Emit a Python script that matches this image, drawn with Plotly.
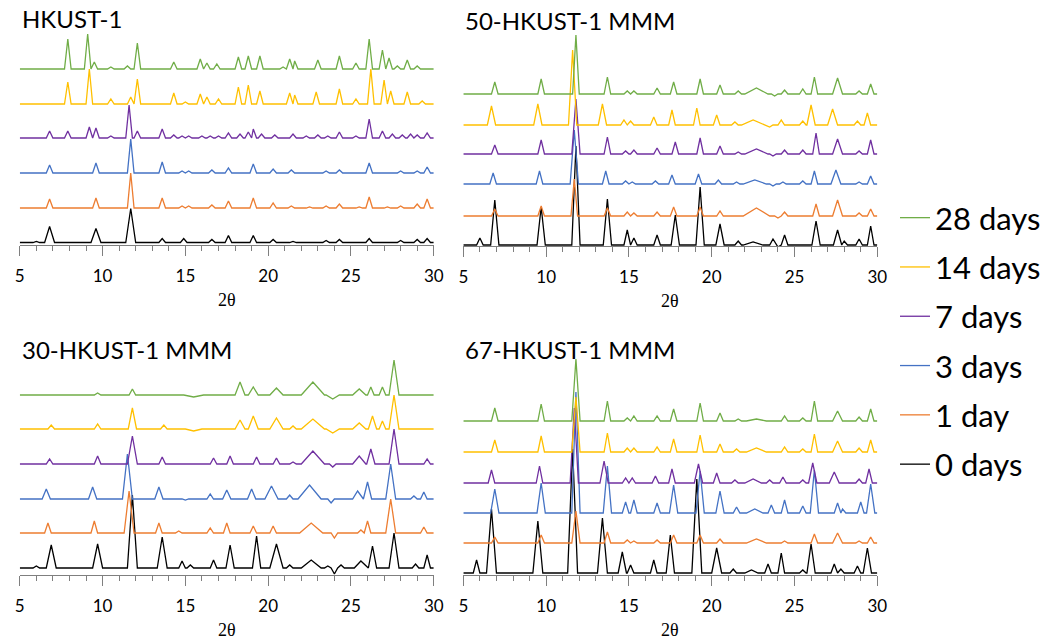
import plotly.graph_objects as go

# ---------------- data (peak position 2θ, height, optional half-width) ----------------
DAYS = ["0 days", "1 day", "3 days", "7 days", "14 days", "28 days"]
COLORS = ["#000000", "#ED7D31", "#4472C4", "#7030A0", "#FFC000", "#70AD47"]
TITLES = ["HKUST-1", "50-HKUST-1 MMM", "30-HKUST-1 MMM", "67-HKUST-1 MMM"]
X_TICKS = [5, 10, 15, 20, 25, 30]

HK1_D0 = [(6.0, 1), (6.8, 16, 0.3), (9.6, 14, 0.3), (11.7, 34, 0.3), (13.6, 4), (14.9, 4), (16.6, 3), (17.6, 7),
          (19.1, 7), (20.3, 3), (21.5, 1), (23.5, 2), (24.3, 3), (26.1, 4), (28.0, 2), (29.0, 3), (29.6, 4)]
HK1_D1 = [(6.8, 9), (9.6, 10), (11.7, 35), (13.6, 10), (14.8, 2), (15.2, 2), (16.6, 3), (17.6, 7), (19.1, 10),
          (20.3, 5), (21.4, 2), (22.5, 1), (23.5, 2), (24.3, 4), (25.5, 1), (26.1, 11), (27.2, 1), (28.0, 2),
          (29.0, 4), (29.6, 9)]
HK1_D3 = [(6.8, 8), (9.6, 10), (11.7, 34), (13.6, 11), (14.8, 2), (15.2, 2), (16.6, 3), (17.6, 5), (19.1, 9),
          (20.3, 4), (21.4, 3), (23.5, 2), (24.3, 3), (26.1, 10), (28.0, 2), (29.0, 2), (29.6, 6)]
HK1_D7 = [(6.8, 7), (7.9, 7), (9.2, 11), (9.6, 10), (10.5, 2), (11.6, 33), (12.1, 7), (13.6, 9), (14.3, 3),
          (14.8, 2), (15.2, 2), (16.0, 2), (16.5, 2), (17.0, 2), (17.6, 5), (18.3, 4), (18.8, 6), (19.1, 9),
          (19.6, 4), (20.4, 3), (21.5, 4), (22.3, 2), (23.0, 3), (23.6, 2), (24.3, 6), (25.3, 2), (26.1, 19),
          (26.9, 7), (27.5, 4), (28.1, 3), (28.6, 4), (29.0, 3), (29.6, 5)]
HK1_D14 = [(7.9, 22), (9.2, 35), (10.5, 5), (11.7, 7), (12.1, 25), (14.3, 11), (15.0, 2), (15.9, 10), (16.3, 7),
           (17.0, 5), (18.2, 17), (18.8, 19), (19.5, 13), (21.3, 11), (21.6, 9), (22.9, 12), (24.3, 15),
           (25.3, 5), (26.2, 35), (27.0, 24), (27.4, 13), (28.4, 12), (29.3, 3)]
HK1_D28 = [(7.9, 30), (9.1, 35), (9.5, 7), (10.5, 2), (11.5, 3), (12.1, 26), (14.3, 7), (15.9, 10), (16.3, 6),
           (16.9, 5), (18.2, 12), (18.8, 13), (19.5, 13), (20.9, 2), (21.3, 10), (21.6, 8), (23.0, 9), (24.3, 13),
           (25.3, 6), (26.1, 30), (26.9, 19), (27.3, 11), (27.8, 3), (28.4, 9), (29.0, 3)]
HK1_OFFSETS = [2.5, 37, 72, 107, 141, 176]

M50_D0 = [(6.0, 7), (6.9, 45, 0.25), (9.7, 38, 0.25), (11.8, 99, 0.25), (13.7, 46, 0.25), (14.9, 15), (15.3, 7),
          (16.7, 10), (17.8, 30, 0.25), (19.3, 58, 0.25), (20.5, 21, 0.25), (21.6, 4), (22.5, 3, 0.6), (23.7, 6),
          (24.0, -2), (24.4, 10), (26.3, 24, 0.25), (27.6, 15, 0.25), (28.0, 4), (28.9, 6), (29.6, 19)]
M50_D1 = [(6.9, 7), (9.7, 10), (11.7, 37), (13.7, 8), (14.9, 4), (15.3, 3), (16.7, 4), (17.7, 9), (19.3, 9),
          (20.5, 5), (22.7, 8, 0.8), (24.0, -2), (24.4, 4), (26.3, 12), (27.6, 16, 0.3), (28.9, 3), (29.6, 7)]
M50_D3 = [(6.8, 11), (9.6, 13), (11.7, 54, 0.25), (13.6, 13), (14.8, 3), (15.2, 2), (16.6, 3), (17.6, 9),
          (19.2, 10), (20.4, 4), (21.5, 2), (22.6, 4, 0.7), (23.7, -2), (24.3, 2), (25.5, 3), (26.2, 13),
          (27.5, 14, 0.3), (28.9, 2), (29.6, 8)]
M50_D7 = [(6.9, 9), (9.7, 14), (11.8, 55, 0.25), (13.7, 17), (14.8, 3), (15.3, 4), (16.7, 6), (17.8, 12),
          (19.3, 16), (20.5, 8), (21.6, 2), (22.7, 5, 0.7), (23.7, -2), (24.4, 4), (25.5, 4), (26.3, 21),
          (27.6, 15, 0.3), (28.9, 3), (29.6, 14)]
M50_D14 = [(6.7, 19, 0.25), (9.5, 21, 0.25), (11.6, 75, 0.25), (13.4, 21, 0.25), (14.7, 5), (15.1, 4), (16.5, 8),
           (17.6, 15), (19.1, 17), (20.3, 10), (21.4, 3), (22.5, 5, 0.7), (23.5, -2), (24.2, 5), (25.5, 4),
           (26.0, 20, 0.25), (27.3, 16, 0.3), (28.8, 4), (29.4, 12)]
M50_D28 = [(6.9, 12), (9.7, 15), (11.8, 59), (13.7, 17), (14.9, 3), (15.3, 3), (16.7, 6), (17.7, 12), (19.3, 15),
           (20.5, 9), (21.6, 3), (22.7, 6, 0.7), (23.8, -2), (24.4, 4), (25.5, 5), (26.2, 17), (27.6, 16, 0.3),
           (28.9, 3), (29.6, 10)]
M50_OFFSETS = [1, 30, 62, 92, 121, 152]

M30_D0 = [(6.0, 2), (6.9, 23, 0.3), (9.7, 24, 0.3), (11.8, 73, 0.3), (13.6, 31, 0.3), (14.8, 7), (15.3, 3),
          (16.7, 8), (17.7, 23, 0.25), (19.3, 32, 0.25), (20.5, 24, 0.4), (21.3, 3), (22.6, 8, 0.6), (23.6, 2),
          (24.0, -6), (24.4, 3), (25.6, 7, 0.4), (26.3, 22, 0.25), (27.6, 35, 0.3), (28.9, 4), (29.6, 13)]
M30_D1 = [(6.7, 10), (9.5, 12), (11.6, 42, 0.3), (13.4, 10), (14.6, 2), (16.5, 5), (17.5, 10), (19.1, 7),
          (20.3, 7), (22.6, 10, 0.7), (24.0, -5), (25.6, 3), (26.0, 12), (27.4, 34, 0.3), (29.4, 6)]
M30_D3 = [(6.6, 10, 0.25), (9.4, 12, 0.25), (11.5, 45, 0.3), (13.4, 12, 0.25), (15.0, -1), (16.5, 5),
          (17.5, 9, 0.25), (19.0, 10, 0.25), (20.2, 13, 0.4), (21.3, 4), (22.5, 14, 0.7), (23.8, -4),
          (25.4, 8, 0.3), (26.0, 17, 0.25), (27.4, 35, 0.3), (28.8, 3), (29.4, 7)]
M30_D7 = [(6.8, 5), (9.7, 8), (11.8, 28, 0.3), (13.6, 7), (16.7, 6), (17.7, 8), (19.3, 7), (20.5, 6), (21.5, 2),
          (22.7, 13, 0.7), (23.9, -3), (25.5, 8, 0.4), (26.2, 15, 0.25), (27.6, 35, 0.3), (29.6, 5)]
M30_D14 = [(6.9, 4), (9.7, 5), (11.8, 21, 0.25), (13.7, 4), (15.5, -2, 0.5), (18.3, 9, 0.3), (19.1, 13, 0.3),
           (20.5, 11, 0.4), (21.5, 3), (22.7, 10, 0.7), (23.9, -4, 0.4), (25.5, 6, 0.4), (26.3, 13, 0.25),
           (26.9, 8), (27.6, 34, 0.3)]
M30_D28 = [(9.7, 2), (11.8, 6), (15.5, -2, 0.6), (18.3, 13, 0.3), (19.1, 8, 0.3), (20.5, 7, 0.4),
           (22.7, 13, 0.7), (23.9, -4, 0.4), (25.5, 6, 0.4), (26.2, 8), (26.9, 8), (27.6, 35, 0.3)]
M30_OFFSETS = [7, 42, 76, 111, 146, 180]

M67_D0 = [(5.8, 13), (6.7, 64, 0.3), (9.5, 52, 0.3), (11.6, 124, 0.3), (13.4, 55, 0.3), (14.6, 21, 0.25),
          (15.1, 8), (16.5, 13), (17.5, 38, 0.25), (19.1, 94, 0.3), (20.3, 25, 0.3), (21.3, 4), (22.4, 3, 0.4),
          (23.4, 9), (24.2, 20), (25.5, 3), (26.0, 29, 0.25), (27.4, 9), (27.8, 4), (28.8, 7), (29.4, 25, 0.25)]
M67_D1 = [(6.9, 6), (9.7, 8), (11.8, 32, 0.25), (13.7, 11), (14.9, 3), (15.3, 2), (16.7, 3), (17.7, 8), (19.3, 8),
          (20.5, 4), (22.7, 4, 0.6), (24.4, 2), (26.2, 9), (27.6, 10, 0.3), (28.9, 2), (29.6, 6)]
M67_D3 = [(6.9, 24, 0.25), (9.7, 30, 0.25), (11.8, 121, 0.25), (13.7, 47, 0.25), (14.8, 11), (15.3, 13),
          (16.7, 10), (17.7, 28, 0.25), (19.3, 42, 0.25), (20.5, 22, 0.25), (21.5, 6), (22.6, 4, 0.5), (23.6, 8),
          (24.4, 13), (25.5, 7), (26.2, 43, 0.25), (27.6, 10), (27.9, 4), (29.0, 11), (29.6, 29, 0.25)]
M67_D7 = [(6.7, 13), (9.6, 17), (11.7, 75, 0.25), (13.5, 22, 0.25), (14.8, 5), (15.2, 5), (16.6, 7), (17.6, 14),
          (19.2, 19, 0.25), (20.3, 10), (21.4, 3), (22.5, 4, 0.5), (23.5, 3), (24.3, 6), (25.5, 3),
          (26.1, 20, 0.25), (27.4, 11, 0.3), (28.9, 4), (29.5, 14)]
M67_D14 = [(6.9, 12), (9.7, 16), (11.8, 55, 0.25), (13.7, 19), (14.9, 4), (15.3, 4), (16.7, 5), (17.7, 13),
           (19.3, 17), (20.5, 8), (21.5, 3), (22.7, 4, 0.6), (24.4, 5), (25.5, 3), (26.2, 18), (27.6, 11, 0.3),
           (28.9, 4), (29.6, 12)]
M67_D28 = [(6.9, 13), (9.7, 17), (11.8, 62, 0.25), (13.7, 20), (14.9, 3), (15.3, 5), (16.7, 5), (17.7, 12),
           (19.3, 18), (20.5, 8), (21.6, 2), (22.7, 2, 0.6), (24.4, 5), (25.5, 3), (26.2, 20), (27.6, 10, 0.3),
           (28.9, 4), (29.6, 12)]
M67_OFFSETS = [2, 32, 62, 92, 123, 154]

# ---------------- layout helpers ----------------
W, H = 1046, 639
def fx(p):
    return p / W
def fy(p):
    return 1 - p / H

PANELS = [
    (TITLES[0], [HK1_D0, HK1_D1, HK1_D3, HK1_D7, HK1_D14, HK1_D28], HK1_OFFSETS, (15, 435), (245, 25)),
    (TITLES[1], [M50_D0, M50_D1, M50_D3, M50_D7, M50_D14, M50_D28], M50_OFFSETS, (465, 885), (246, 26)),
    (TITLES[2], [M30_D0, M30_D1, M30_D3, M30_D7, M30_D14, M30_D28], M30_OFFSETS, (15, 435), (575, 355)),
    (TITLES[3], [M67_D0, M67_D1, M67_D3, M67_D7, M67_D14, M67_D28], M67_OFFSETS, (465, 885), (575, 355)),
]


def polyline(peaks, default_w=0.2):
    xs, ys = [5.0], [0.0]
    for p in peaks:
        pos, h = p[0], p[1]
        w = p[2] if len(p) > 2 else default_w
        left = max(pos - w, xs[-1])
        xs += [left, pos, pos + w]
        ys += [0.0, h, 0.0]
    xs.append(30.0)
    ys.append(0.0)
    return xs, ys


fig = go.Figure()
annotations = []
for i, (title, series, offsets, xd, yd) in enumerate(PANELS):
    n = "" if i == 0 else str(i + 1)
    for k, peaks in enumerate(series):
        xs, ys = polyline(peaks)
        fig.add_trace(go.Scatter(
            x=xs, y=[v + offsets[k] for v in ys], mode="lines",
            line=dict(color=COLORS[k], width=1.3),
            name=DAYS[k], legendgroup=DAYS[k], legendrank=10 - k, showlegend=(i == 0),
            xaxis="x" + n, yaxis="y" + n, hoverinfo="skip"))
    fig.update_layout(**{
        "xaxis" + n: dict(domain=[fx(xd[0]), fx(xd[1])], anchor="y" + n, range=[5, 30],
                          tickvals=X_TICKS, showline=True, linecolor="#7f7f7f", linewidth=1,
                          ticks="outside", ticklen=10, tickcolor="#7f7f7f", tickwidth=1,
                          minor=dict(dtick=1, tick0=5, ticks="outside", ticklen=5, tickcolor="#7f7f7f"),
                          showgrid=False, zeroline=False, ticklabelstandoff=6,
                          tickfont=dict(family="Lato", size=17, color="#000000"), fixedrange=True),
        "yaxis" + n: dict(domain=[fy(yd[0]), fy(yd[1])], anchor="x" + n, range=[0, 220],
                          visible=False, fixedrange=True),
    })
    annotations.append(dict(text=title, xref="x" + n + " domain", x=0, xanchor="left",
                            yref="paper", y=fy(yd[1] - 6), yanchor="middle", showarrow=False,
                            font=dict(family="Lato", size=24, color="#000000")))
    annotations.append(dict(text="2θ", xref="x" + n + " domain", x=0.5, xanchor="center",
                            yref="paper", y=fy(yd[0] + 55), yanchor="middle", showarrow=False,
                            font=dict(family="Liberation Serif", size=18, color="#000000")))

fig.update_layout(
    width=W, height=H, margin=dict(l=0, r=0, t=0, b=0),
    paper_bgcolor="white", plot_bgcolor="white",
    annotations=annotations,
    legend=dict(x=fx(903), y=fy(191), xanchor="left", yanchor="top",
                traceorder="grouped", tracegroupgap=6, itemwidth=30,
                font=dict(family="Lato", size=31, color="#000000"), bgcolor="rgba(0,0,0,0)"),
)

fig.write_html("out.html", config={"displayModeBar": False},
               post_script="document.body.style.margin='0px';document.body.style.overflow='hidden';")
